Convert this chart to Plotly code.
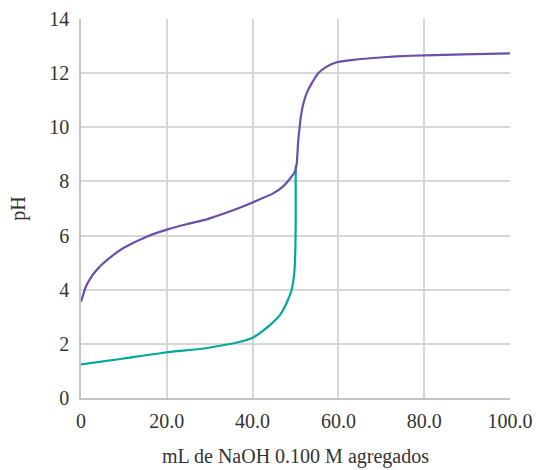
import plotly.graph_objects as go

# Volume of NaOH added (mL) and measured pH for each titration
strong_ml = [0, 10, 20, 27.7, 32.4, 37.1, 40, 41.7, 44.1, 46.4, 47.9, 49.1, 49.7, 49.95, 50.05, 50.05]
strong_ph = [1.24, 1.46, 1.69, 1.81, 1.93, 2.08, 2.23, 2.40, 2.70, 3.07, 3.50, 4.00, 4.60, 5.40, 6.50, 8.60]

weak_ml = [0, 0.4, 1.1, 2.3, 3.5, 5.0, 7.5, 10, 15.3, 20, 24.6, 29.3, 34, 38.6, 41.7,
           44.8, 47.0, 48.7, 49.9, 50.3, 50.5, 50.65, 50.9, 51.2, 51.8, 52.6, 53.8, 55.3, 57.3,
           59.6, 63.5, 67.4, 73.6, 80.2, 89.1, 100]
weak_ph = [3.56, 3.76, 4.10, 4.45, 4.70, 4.95, 5.28, 5.55, 5.96, 6.22, 6.42, 6.60, 6.85, 7.13, 7.34,
           7.56, 7.80, 8.10, 8.38, 8.67, 9.16, 9.53, 9.90, 10.35, 10.85, 11.26, 11.63, 12.00, 12.24,
           12.40, 12.49, 12.55, 12.62, 12.66, 12.69, 12.73]

x_ticks = [0, 20, 40, 60, 80, 100]
x_labels = ["0", "20.0", "40.0", "60.0", "80.0", "100.0"]
y_ticks = [0, 2, 4, 6, 8, 10, 12, 14]

TEAL = "#00a99d"
PURPLE = "#6a50a6"
GRID = "#d6d6d6"
FONT = "Liberation Serif"

fig = go.Figure()
fig.add_trace(go.Scatter(x=strong_ml, y=strong_ph, mode="lines",
                         line=dict(color=TEAL, width=2.2, shape="spline", smoothing=0.5),
                         hoverinfo="skip"))
fig.add_trace(go.Scatter(x=weak_ml, y=weak_ph, mode="lines",
                         line=dict(color=PURPLE, width=2.2, shape="spline", smoothing=0.5),
                         hoverinfo="skip"))

fig.update_layout(
    width=536, height=470,
    margin=dict(l=81, r=26, t=19, b=72, autoexpand=False),
    paper_bgcolor="white", plot_bgcolor="white",
    showlegend=False,
    font=dict(family=FONT, size=20, color="#333333"),
)
fig.update_xaxes(
    range=[0, 100], tickvals=x_ticks, ticktext=x_labels,
    showgrid=True, gridcolor=GRID, gridwidth=1.5, zeroline=False,
    showline=True, linecolor="#c4c4c4", linewidth=1.5,
    ticks="", ticklabelstandoff=4, automargin=False,
    title=dict(text="mL de NaOH 0.100 M agregados", font=dict(size=20, family=FONT), standoff=18),
)
fig.update_yaxes(
    range=[0, 14], tickvals=y_ticks,
    showgrid=True, gridcolor=GRID, gridwidth=1.5, zeroline=False,
    showline=True, linecolor="#c4c4c4", linewidth=1.5,
    ticks="", ticklabelstandoff=6, automargin=False,
    title=dict(text="pH", font=dict(size=20, family=FONT), standoff=18),
)

fig.write_html("out.html")
